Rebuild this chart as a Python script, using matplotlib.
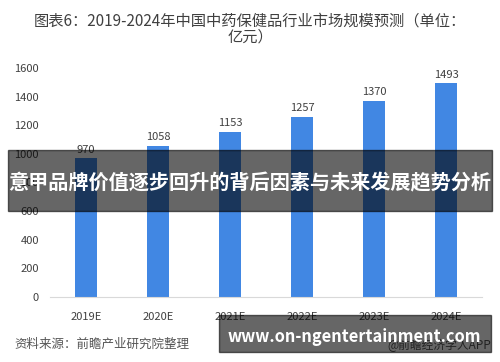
import matplotlib.pyplot as plt
import matplotlib.patches as patches

plt.rcParams['font.family'] = ['Noto Sans CJK SC', 'DejaVu Sans']

years = ["2019E", "2020E", "2021E", "2022E", "2023E", "2024E"]
market_size = [970, 1058, 1153, 1257, 1370, 1493]
yticks = [0, 200, 400, 600, 800, 1000, 1200, 1400, 1600]

fig = plt.figure(figsize=(5, 3.62), dpi=100)
ax = fig.add_axes([0.10, 0.1796, 0.864, 0.6326])

x = range(len(years))
bars = ax.bar(x, market_size, width=0.31, color="#4187e3")
for xi, v in zip(x, market_size):
    ax.text(xi, v + 25, str(v), ha="center", va="bottom", fontsize=8, color="#404040")

ax.set_ylim(0, 1600)
ax.set_xlim(-0.5, len(years) - 0.5)
ax.set_yticks(yticks)
ax.set_xticks(list(x))
ax.set_xticklabels(years)
ax.tick_params(axis="both", length=0, labelsize=8, labelcolor="#404040")
ax.tick_params(axis="x", pad=11)
ax.tick_params(axis="y", pad=8)
for s in ["top", "right", "left"]:
    ax.spines[s].set_visible(False)
ax.spines["bottom"].set_color("#d9d9d9")

fig.text(0.5, 1 - 21 / 362, "图表6：2019-2024年中国中药保健品行业市场规模预测（单位：",
         ha="center", va="center", fontsize=11, color="#404040")
fig.text(0.5, 1 - 37 / 362, "亿元）", ha="center", va="center", fontsize=11, color="#404040")

fig.text(0.028, 1 - 344 / 362, "资料来源：前瞻产业研究院整理", ha="left", va="center",
         fontsize=9, color="#555555", style="italic")
fig.text(0.982, 1 - 345 / 362, "@前瞻经济学人APP", ha="right", va="center",
         fontsize=8.5, color="#555555")

# overlay bands
fig.patches.append(patches.Rectangle((0.016, 1 - 211 / 362), 0.968, 61 / 362,
                                     transform=fig.transFigure, color="black",
                                     alpha=0.6, zorder=5))
fig.text(0.5, 1 - 183 / 362, "意甲品牌价值逐步回升的背后因素与未来发展趋势分析",
         ha="center", va="center", fontsize=14.5, color="white",
         fontweight="bold", zorder=6)

fig.patches.append(patches.Rectangle((219 / 500, 1 - 352 / 362), 272 / 500, 37 / 362,
                                     transform=fig.transFigure, color="black",
                                     alpha=0.6, zorder=5))
fig.text(354 / 500, 1 - 337 / 362, "www.on-ngentertainment.com",
         ha="center", va="center", fontsize=11.8, color="white",
         fontweight="bold", zorder=6)

fig.savefig("out.png", dpi=100)
